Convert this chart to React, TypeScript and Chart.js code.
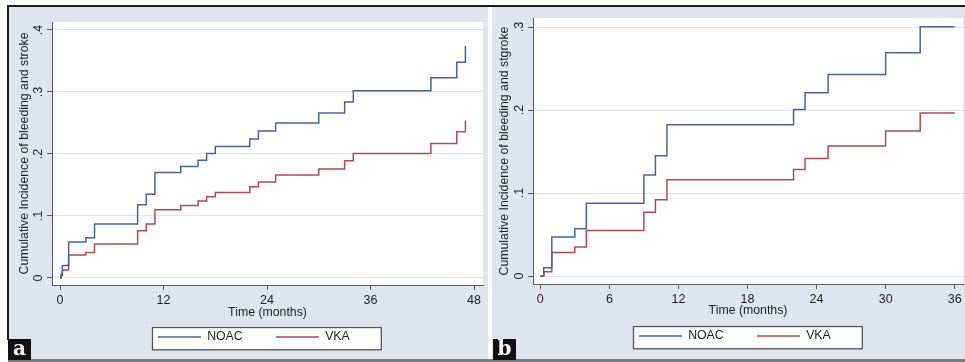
import React, { useEffect, useRef } from 'react';
import { Chart, registerables } from 'chart.js';

Chart.register(...registerables);

const FONT = "'Liberation Sans', Arial, Helvetica, sans-serif";

// ---------- Data: panel a ----------
const monthsA = [0, 0.12, 0.27, 1.0, 3.0, 4.0, 9.0, 10.0, 11.0, 14.0, 16.0, 17.0, 18.0, 22.0, 23.0, 25.0, 30.0, 33.0, 34.0, 43.0, 46.0, 47.0];
const noacA = [0, 0.004, 0.02, 0.058, 0.065, 0.087, 0.118, 0.135, 0.17, 0.18, 0.19, 0.201, 0.212, 0.224, 0.237, 0.25, 0.266, 0.284, 0.302, 0.323, 0.348, 0.374];
const vkaA = [0, 0.006, 0.013, 0.037, 0.041, 0.055, 0.076, 0.087, 0.11, 0.117, 0.124, 0.131, 0.138, 0.147, 0.155, 0.166, 0.176, 0.189, 0.201, 0.217, 0.236, 0.254];
const xTicksA = [0, 12, 24, 36, 48];
const yTicksA = [0, 0.1, 0.2, 0.3, 0.4];
const yTitleA = 'Cumulative Incidence of bleeding and stroke';

// ---------- Data: panel b ----------
const monthsB = [0, 0.3, 1.0, 3.0, 4.0, 9.0, 10.0, 11.0, 22.0, 23.0, 25.0, 30.0, 33.0, 36.0];
const noacB = [0, 0.01, 0.047, 0.057, 0.0876, 0.1216, 0.145, 0.1824, 0.2008, 0.2208, 0.2428, 0.269, 0.3004, 0.3004];
const vkaB = [0, 0.0052, 0.0284, 0.035, 0.055, 0.0768, 0.092, 0.116, 0.1284, 0.1416, 0.1568, 0.1748, 0.1964, 0.1964];
const xTicksB = [0, 6, 12, 18, 24, 30, 36];
const yTicksB = [0, 0.1, 0.2, 0.3];
const yTitleB = 'Cumulative Incidence of bleeding and stgroke';

const seriesNames = ['NOAC', 'VKA'];
const xTitle = 'Time (months)';
const panelLabels = ['a', 'b'];

// ---------- Styles ----------
const NOAC_COLOR = '#46659f';
const VKA_COLOR = '#b8474f';
const AXIS_COLOR = '#5a5a5a';
const GRID_COLOR = '#dde5ef';
const TEXT_COLOR = '#1e1e1e';
const PANEL_BG = '#dfe5ee';

const TICK_FS = 12.5;
const TITLE_FS = 12.3;
const LEGEND_FS = 12.3;
const TICK_LEN = 5;
const X_AXIS_H = 40;

type Spec = {
  months: number[]; noac: number[]; vka: number[];
  xTicks: number[]; yTicks: number[];
  xMin: number; xMax: number; yMin: number; yMax: number;
  yTitle: string;
  width: number; height: number;
  area: { left: number; top: number; right: number; bottom: number };
  yTitleX: number; yTickDist: number; xTickGap: number; xTitleGap: number;
};

const specA: Spec = {
  months: monthsA, noac: noacA, vka: vkaA, xTicks: xTicksA, yTicks: yTicksA,
  xMin: -0.93, xMax: 49.04, yMin: -0.0113, yMax: 0.4129, yTitle: yTitleA,
  width: 479, height: 352,
  area: { left: 43, top: 15, right: 474, bottom: 278 },
  yTitleX: 15.5, yTickDist: 13.3, xTickGap: 16, xTitleGap: 27.2,
};

const specB: Spec = {
  months: monthsB, noac: noacB, vka: vkaB, xTicks: xTicksB, yTicks: yTicksB,
  xMin: -0.634, xMax: 36.72, yMin: -0.0096, yMax: 0.3108, yTitle: yTitleB,
  width: 473, height: 352,
  area: { left: 41, top: 10, right: 471, bottom: 277 },
  yTitleX: 13, yTickDist: 13.8, xTickGap: 15.3, xTitleGap: 26.6,
};

const LEG = { itemsLeft: 106, itemsMid: 52, boxLeft: 100.3, boxTop: 41.5, boxW: 228.8, boxH: 22.3, pad: 33.3 };

function fmtY(v: number): string {
  if (v === 0) return '0';
  return String(Math.round(v * 10) / 10).replace(/^0/, '');
}

function makeDeco() {
  return {
    id: 'panelDeco',
    afterLayout(chart: any) {
      const lg = chart.legend;
      const ca = chart.chartArea;
      if (!lg || !ca) return;
      const left = ca.left + LEG.itemsLeft - LEG.pad;
      lg.left = left;
      lg.width = 420;
      lg.right = left + 420;
      const top = ca.bottom + LEG.itemsMid - LEG.pad - LEGEND_FS / 2;
      lg.top = top;
      lg.height = LEG.pad * 2 + LEGEND_FS;
      lg.bottom = top + lg.height;
    },
    beforeDraw(chart: any) {
      const { ctx, chartArea: ca } = chart;
      ctx.save();
      ctx.fillStyle = '#ffffff';
      ctx.fillRect(ca.left, ca.top, ca.right - ca.left, ca.bottom - ca.top);
      const x = ca.left + LEG.boxLeft;
      const y = ca.bottom + LEG.boxTop;
      ctx.fillRect(x, y, LEG.boxW, LEG.boxH);
      ctx.strokeStyle = '#555555';
      ctx.lineWidth = 1.3;
      ctx.strokeRect(Math.round(x) + 0.5, Math.round(y) + 0.5, LEG.boxW, LEG.boxH);
      ctx.restore();
    },
  };
}

function Panel({ spec }: { spec: Spec }) {
  const ref = useRef<HTMLCanvasElement | null>(null);
  useEffect(() => {
    if (!ref.current) return;
    const s = spec;
    const titleLH = TITLE_FS * 1.2;
    const tickLH = TICK_FS * 1.2;
    const widestHalf = (0.834 * TICK_FS) / 2;
    const chart = new Chart(ref.current, {
      type: 'line',
      data: {
        datasets: [
          {
            label: seriesNames[0],
            data: s.months.map((t, i) => ({ x: t, y: s.noac[i] })),
            borderColor: NOAC_COLOR,
            backgroundColor: NOAC_COLOR,
            borderWidth: 1.5,
            pointRadius: 0,
            stepped: true,
            fill: false,
          },
          {
            label: seriesNames[1],
            data: s.months.map((t, i) => ({ x: t, y: s.vka[i] })),
            borderColor: VKA_COLOR,
            backgroundColor: VKA_COLOR,
            borderWidth: 1.5,
            pointRadius: 0,
            stepped: true,
            fill: false,
          },
        ],
      },
      options: {
        animation: false,
        responsive: false,
        maintainAspectRatio: false,
        events: [],
        layout: {
          padding: { left: 0, top: s.area.top, right: s.width - s.area.right, bottom: 0 },
        },
        scales: {
          x: {
            type: 'linear',
            min: s.xMin,
            max: s.xMax,
            afterBuildTicks: (scale: any) => { scale.ticks = s.xTicks.map((v) => ({ value: v })); },
            afterFit: (scale: any) => { scale.height = X_AXIS_H; },
            grid: { display: true, drawOnChartArea: false, drawTicks: true, tickLength: TICK_LEN, tickColor: AXIS_COLOR, color: AXIS_COLOR, lineWidth: 1 },
            border: { display: true, color: AXIS_COLOR, width: 1 },
            ticks: {
              autoSkip: false, maxRotation: 0, minRotation: 0,
              padding: s.xTickGap - TICK_LEN - tickLH / 2,
              color: TEXT_COLOR,
              font: { family: FONT, size: TICK_FS },
              callback: (v: any) => String(v),
            },
            title: {
              display: true, text: xTitle, color: TEXT_COLOR,
              font: { family: FONT, size: TITLE_FS },
              padding: { top: 0, bottom: X_AXIS_H - s.xTitleGap - titleLH / 2 },
            },
          },
          y: {
            type: 'linear',
            min: s.yMin,
            max: s.yMax,
            afterBuildTicks: (scale: any) => { scale.ticks = s.yTicks.map((v) => ({ value: v })); },
            afterFit: (scale: any) => { scale.width = s.area.left; },
            grid: { display: true, drawOnChartArea: true, drawTicks: true, tickLength: TICK_LEN, tickColor: AXIS_COLOR, color: GRID_COLOR, lineWidth: 1 },
            border: { display: true, color: AXIS_COLOR, width: 1 },
            ticks: {
              autoSkip: false, minRotation: 90, maxRotation: 90,
              crossAlign: 'center',
              padding: s.yTickDist - TICK_LEN - widestHalf,
              color: TEXT_COLOR,
              font: { family: FONT, size: TICK_FS },
              callback: (v: any) => fmtY(Number(v)),
            },
            title: {
              display: true, text: s.yTitle, color: TEXT_COLOR,
              font: { family: FONT, size: TITLE_FS },
              padding: { top: s.yTitleX - titleLH / 2, bottom: 0 },
            },
          },
        },
        plugins: {
          tooltip: { enabled: false },
          legend: {
            display: true,
            position: 'bottom',
            align: 'start',
            maxHeight: s.height - s.area.bottom - X_AXIS_H,
            labels: {
              usePointStyle: true,
              pointStyle: 'line',
              pointStyleWidth: 43,
              padding: LEG.pad,
              color: TEXT_COLOR,
              font: { family: FONT, size: LEGEND_FS },
            },
          },
        },
      } as any,
      plugins: [makeDeco()],
    });
    return () => chart.destroy();
  }, [spec]);
  return <canvas ref={ref} width={spec.width} height={spec.height} style={{ display: 'block', width: spec.width, height: spec.height }} />;
}

const labelStyle: React.CSSProperties = {
  position: 'absolute',
  top: 339,
  width: 23,
  height: 21,
  background: '#111',
  color: '#fff',
  fontFamily: "'DejaVu Serif', 'Liberation Serif', serif",
  fontWeight: 'bold',
  fontSize: 20,
  lineHeight: '19px',
  textAlign: 'center',
};

export default function App() {
  return (
    <div style={{ position: 'absolute', left: 0, top: 0, width: 965, height: 362, background: '#fff', overflow: 'hidden' }}>
      <div style={{ position: 'absolute', left: 9, top: 7, width: 479, height: 352, background: PANEL_BG }}>
        <Panel spec={specA} />
      </div>
      <div style={{ position: 'absolute', left: 492, top: 7, width: 473, height: 352, background: PANEL_BG }}>
        <Panel spec={specB} />
      </div>
      <div style={{ position: 'absolute', left: 8, top: 5, width: 957, height: 2, background: '#1a1a1a' }} />
      <div style={{ position: 'absolute', left: 7, top: 5, width: 2, height: 335, background: '#1a1a1a' }} />
      <div style={{ position: 'absolute', left: 8, top: 359, width: 957, height: 3, background: '#7a7a7a' }} />
      <div style={{ ...labelStyle, left: 8 }}>{panelLabels[0]}</div>
      <div style={{ ...labelStyle, left: 493 }}>{panelLabels[1]}</div>
    </div>
  );
}
